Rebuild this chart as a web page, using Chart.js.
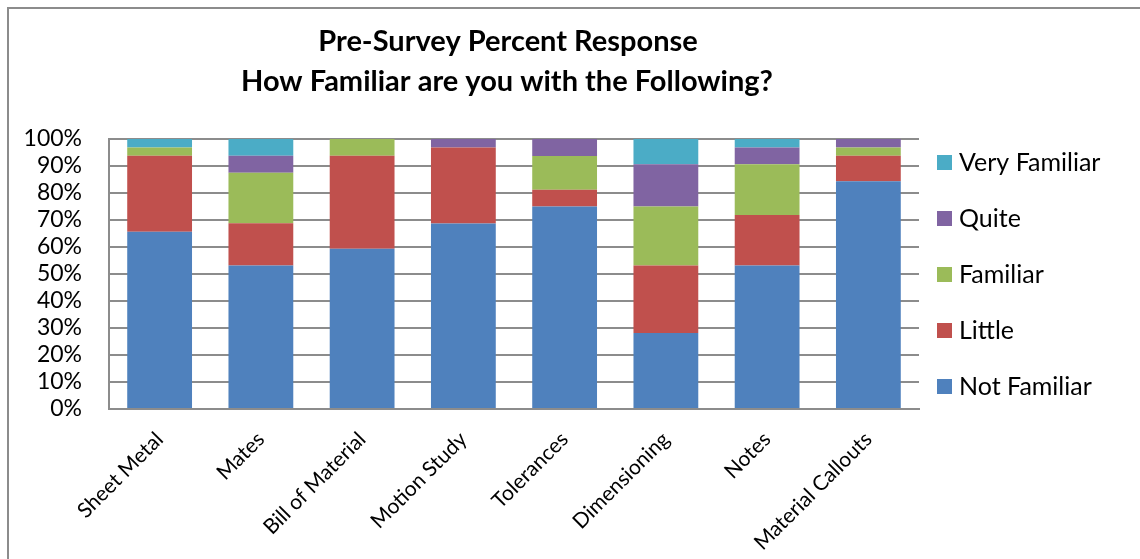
<!DOCTYPE html>
<html>
<head>
<meta charset="utf-8">
<title>Pre-Survey Percent Response</title>
<script src="https://cdn.jsdelivr.net/npm/chart.js@4.4.1/dist/chart.umd.min.js"></script>
<style>
  html, body { margin: 0; padding: 0; background: #fff; }
  #wrap { position: relative; width: 1140px; height: 559px; }
</style>
</head>
<body>
<div id="wrap"><canvas id="survey-chart" width="1140" height="559"></canvas></div>
<script>
// Pre-survey responses, percent of respondents per topic
const topics        = ['Sheet Metal', 'Mates', 'Bill of Material', 'Motion Study', 'Tolerances', 'Dimensioning', 'Notes', 'Material Callouts'];
const notFamiliar   = [65.63, 53.13, 59.38, 68.75, 75.00, 28.13, 53.13, 84.38];
const little        = [28.13, 15.63, 34.38, 28.13,  6.25, 25.00, 18.75,  9.38];
const familiar      = [ 3.13, 18.75,  6.25,  0,    12.50, 21.88, 18.75,  3.13];
const quite         = [ 0,     6.25,  0,     3.13,  6.25, 15.63,  6.25,  3.13];
const veryFamiliar  = [ 3.13,  6.25,  0,     0,     0,     9.38,  3.13,  0];
const yTicks        = [0, 10, 20, 30, 40, 50, 60, 70, 80, 90, 100];
const titleLines    = ['Pre-Survey Percent Response', 'How Familiar are you with the Following?'];

const FONT  = 'Lato, "Open Sans", sans-serif';
const GRID  = '#8c8c8c';

// Outer frame of the chart box
const framePlugin = {
  id: 'frame',
  beforeDraw(chart) {
    const ctx = chart.ctx;
    ctx.save();
    ctx.strokeStyle = '#8c8c8c';
    ctx.lineWidth = 2;
    ctx.strokeRect(8, 8, 1300, 700);
    ctx.restore();
  }
};

// Two-line heading
const headerPlugin = {
  id: 'header',
  afterDraw(chart) {
    const ctx = chart.ctx;
    ctx.save();
    ctx.fillStyle = '#000';
    ctx.font = 'bold 29px ' + FONT;
    ctx.textAlign = 'center';
    ctx.textBaseline = 'alphabetic';
    ctx.fillText(titleLines[0], 508, 51);
    ctx.fillText(titleLines[1], 507, 91);
    ctx.restore();
  }
};

// Legend on the right, top item = last series
const sideLegend = {
  id: 'sideLegend',
  afterDraw(chart) {
    const ctx = chart.ctx;
    const sets = chart.data.datasets.slice().reverse();
    ctx.save();
    ctx.font = '25px ' + FONT;
    ctx.textAlign = 'left';
    ctx.textBaseline = 'alphabetic';
    sets.forEach((ds, i) => {
      const cy = 162.5 + i * 56;
      ctx.fillStyle = ds.backgroundColor;
      ctx.fillRect(937, cy - 7.5, 15, 15);
      ctx.fillStyle = '#000';
      ctx.fillText(ds.label, 959, cy + 8.5);
    });
    ctx.restore();
  }
};

const series = [
  { label: 'Not Familiar',  data: notFamiliar,  color: '#4f81bd' },
  { label: 'Little',        data: little,       color: '#c0504d' },
  { label: 'Familiar',      data: familiar,     color: '#9bbb59' },
  { label: 'Quite',         data: quite,        color: '#8064a2' },
  { label: 'Very Familiar', data: veryFamiliar, color: '#4bacc6' },
];

new Chart(document.getElementById('survey-chart'), {
  type: 'bar',
  data: {
    labels: topics,
    datasets: series.map(s => ({
      label: s.label,
      data: s.data,
      backgroundColor: s.color,
      borderWidth: 0,
      categoryPercentage: 1,
      barPercentage: 0.64,
    }))
  },
  options: {
    responsive: false,
    animation: false,
    layout: { padding: { top: 139, right: 221, bottom: 0, left: 0 } },
    plugins: {
      legend: { display: false },
      title: { display: false },
      tooltip: { enabled: false },
    },
    scales: {
      x: {
        stacked: true,
        grid: { display: false, drawTicks: false },
        border: { display: true, color: GRID, width: 2 },
        ticks: {
          color: '#000',
          font: { family: FONT, size: 21 },
          minRotation: 45,
          maxRotation: 45,
          autoSkip: false,
          padding: 18,
        },
        afterFit: scale => { scale.height = 150; },
      },
      y: {
        stacked: true,
        min: 0,
        max: 100,
        afterBuildTicks: scale => { scale.ticks = yTicks.map(v => ({ value: v })); },
        grid: { color: GRID, lineWidth: 2, drawTicks: false },
        border: { display: true, color: GRID, width: 2 },
        ticks: {
          color: '#000',
          font: { family: FONT, size: 23 },
          autoSkip: false,
          padding: 27,
          callback: v => v + '%',
        },
        afterFit: scale => { scale.width = 109; },
      }
    }
  },
  plugins: [framePlugin, headerPlugin, sideLegend]
});
</script>
</body>
</html>
